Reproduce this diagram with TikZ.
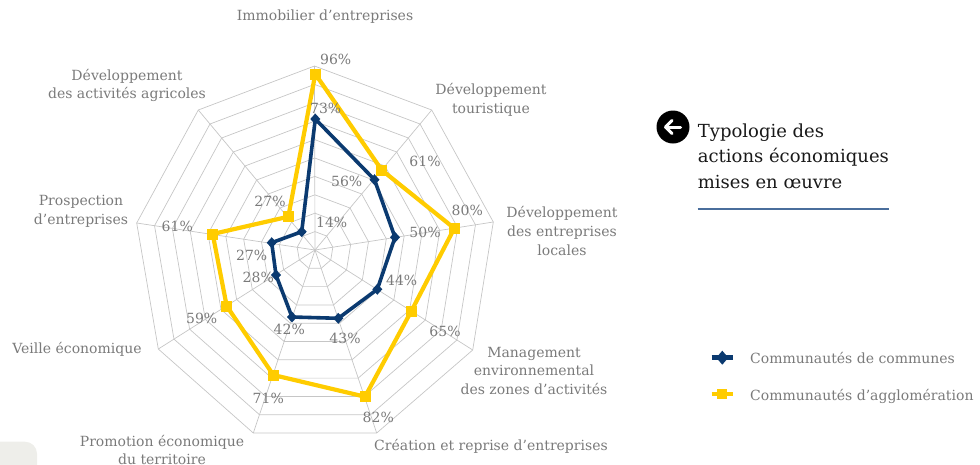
\documentclass[tikz,border=0pt]{standalone}
\usepackage{fontspec}
\setmainfont{DejaVu Serif}
\usetikzlibrary{calc}
\definecolor{gridgray}{HTML}{C6C6C6}
\definecolor{txtgray}{HTML}{7A7A7A}
\definecolor{navy}{HTML}{0B3A70}
\definecolor{gold}{HTML}{FFCC00}
\definecolor{rulecol}{HTML}{4A6E9C}
\definecolor{cornercol}{HTML}{EEEEEA}
\begin{document}
\begin{tikzpicture}[x=1pt,y=-1pt,
  lab/.style={font=\fontsize{14}{18.7}\selectfont, text=txtgray, align=center, inner sep=0pt},
  pct/.style={font=\fontsize{14}{16}\selectfont, text=txtgray, inner sep=0pt},
  legtext/.style={font=\fontsize{14}{16}\selectfont, text=txtgray, inner sep=0pt, anchor=base west},
  gridline/.style={draw=gridgray, line width=0.7pt},
  commune/.style={draw=navy, line width=3.6pt, line join=round},
  agglo/.style={draw=gold, line width=4.2pt, line join=round},
]
\useasboundingbox (0,0) rectangle (980,464);
% corner shape
\fill[cornercol, rounded corners=12pt] (-20,490) rectangle (37,441.7);

% grid geometry
\coordinate (C) at (315,250);
\coordinate (V0) at (314.5,66);
\coordinate (V1) at (431.7,110);
\coordinate (V2) at (493.3,222);
\coordinate (V3) at (472.7,350);
\coordinate (V4) at (376.7,433);
\coordinate (V5) at (253.3,433);
\coordinate (V6) at (158.3,349);
\coordinate (V7) at (136.7,223);
\coordinate (V8) at (198.3,110);
\foreach \k in {1,...,10}{
  \draw[gridline] ($(C)!\k/10!(V0)$) \foreach \i in {1,...,8}{ -- ($(C)!\k/10!(V\i)$)} -- cycle;
}
\foreach \i in {0,...,8} \draw[gridline] (C) -- (V\i);

% data: communautés de communes
\coordinate (B0) at (315.3,119);
\coordinate (B1) at (374.5,179.7);
\coordinate (B2) at (395,237.3);
\coordinate (B3) at (377.3,289.3);
\coordinate (B4) at (338.3,318.3);
\coordinate (B5) at (292,317);
\coordinate (B6) at (276,275);
\coordinate (B7) at (271.7,242.7);
\coordinate (B8) at (301.7,231.7);
% data: communautés d'agglomération
\coordinate (Y0) at (315.3,74);
\coordinate (Y1) at (381.7,170);
\coordinate (Y2) at (454.3,228.3);
\coordinate (Y3) at (411,311.7);
\coordinate (Y4) at (365,396.7);
\coordinate (Y5) at (273.3,375);
\coordinate (Y6) at (226.7,306);
\coordinate (Y7) at (212.7,234);
\coordinate (Y8) at (288.3,216.7);

\draw[commune] (B0) -- (B1) -- (B2) -- (B3) -- (B4) -- (B5) -- (B6) -- (B7) -- (B8) -- cycle;
\foreach \p in {B0,B1,B2,B3,B4,B5,B6,B7,B8}
  \fill[navy] (\p) +(0,-5.5) -- +(5,0) -- +(0,5.5) -- +(-5,0) -- cycle;
\draw[agglo] (Y0) -- (Y1) -- (Y2) -- (Y3) -- (Y4) -- (Y5) -- (Y6) -- (Y7) -- (Y8) -- cycle;
\foreach \p in {Y0,Y1,Y2,Y3,Y4,Y5,Y6,Y7,Y8}
  \fill[gold] (\p) +(-5.5,-5.5) rectangle +(5.5,5.5);

% value labels
\node[pct] (p96) at (335.7,59) {96\%};
\node[pct] (p73) at (325.7,108.3) {73\%};
\node[pct] (p56) at (346.7,181.7) {56\%};
\node[pct] (p61a) at (425,161.7) {61\%};
\node[pct] (p80) at (467.3,210.7) {80\%};
\node[pct] (p50) at (425,232.7) {50\%};
\node[pct] (p44) at (401.7,280.7) {44\%};
\node[pct] (p65) at (445,331.7) {65\%};
\node[pct] (p43) at (345,338.3) {43\%};
\node[pct] (p82) at (378.3,417.3) {82\%};
\node[pct] (p42) at (289.3,329.3) {42\%};
\node[pct] (p71) at (268.3,398.3) {71\%};
\node[pct] (p28) at (258.3,277.3) {28\%};
\node[pct] (p59) at (201.7,318.3) {59\%};
\node[pct] (p27b) at (251.7,255) {27\%};
\node[pct] (p61b) at (177.3,226.7) {61\%};
\node[pct] (p27y) at (270,201.7) {27\%};
\node[pct] (p14) at (331.7,222.7) {14\%};

% axis labels
\node[lab] (a0) at (325,17) {Immobilier d’entreprises};
\node[lab] (a1) at (491,100) {Développement\\touristique};
\node[lab] (a2) at (562,231) {Développement\\des entreprises\\locales};
\node[lab] (a3) at (534,370.7) {Management\\environnemental\\des zones d’activités};
\node[lab] (a4) at (491,446.7) {Création et reprise d’entreprises};
\node[lab] (a5) at (162,450) {Promotion économique\\du territoire};
\node[lab] (a6) at (77,349) {Veille économique};
\node[lab] (a7) at (81,211.5) {Prospection\\d’entreprises};
\node[lab] (a8) at (127,85.5) {Développement\\des activités agricoles};

% title block
\node[circle, fill=black, minimum size=33pt, inner sep=0pt] (icon) at (673,127) {};
\draw[white, line width=3pt, line cap=round, line join=round]
  ($(icon.center)+(-1,-6.5)$) -- ($(icon.center)+(-7.5,0)$) -- ($(icon.center)+(-1,6.5)$);
\draw[white, line width=3pt, line cap=round]
  ($(icon.center)+(-7.5,0)$) -- ($(icon.center)+(7.5,0)$);
\node[font=\fontsize{18}{25.5}\selectfont, text=black!90, align=left, inner sep=0pt, anchor=north west]
  (title) at (697.7,123.3) {Typologie des\\actions économiques\\mises en œuvre};
\coordinate (ruleL) at (697.7,209.3);
\coordinate (ruleR) at (889.3,209.3);
\draw[rulecol, line width=1.8pt] (ruleL) -- (ruleR);

% legend
\coordinate (lb1) at (711.7,357.7);
\coordinate (lb2) at (732.7,357.7);
\coordinate (lbm) at (722.3,357.7);
\draw[navy, line width=4.5pt] (lb1) -- (lb2);
\fill[navy] (lbm) +(0,-7) -- +(6,0) -- +(0,7) -- +(-6,0) -- cycle;
\node[legtext] (leg1) at (750,363.3) {Communautés de communes};
\coordinate (ly1) at (711.7,394);
\coordinate (ly2) at (732.7,394);
\coordinate (lym) at (722.3,394);
\draw[gold, line width=4.5pt] (ly1) -- (ly2);
\fill[gold] (lym) +(-5,-5) rectangle +(5,5);
\node[legtext] (leg2) at (750,400) {Communautés d’agglomération};
\end{tikzpicture}
\end{document}
